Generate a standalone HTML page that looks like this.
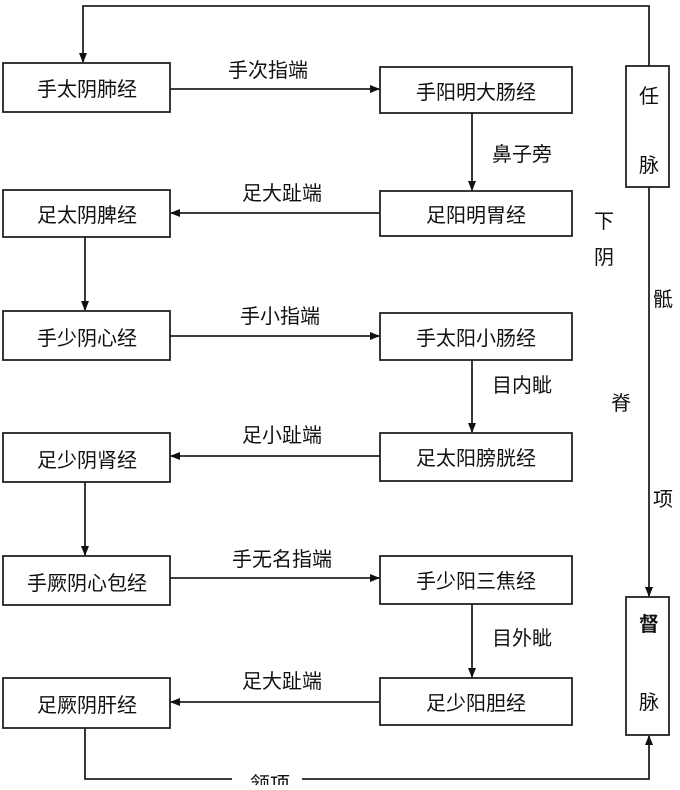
<!DOCTYPE html>
<html><head><meta charset="utf-8"><style>
body{margin:0;background:#fff}
svg text{font-family:"Liberation Sans","Noto Sans CJK SC",sans-serif;font-size:20px;fill:#111}
</style></head><body>
<svg width="680" height="785" viewBox="0 0 680 785" xmlns="http://www.w3.org/2000/svg">
<defs><marker id="a" markerWidth="10" markerHeight="8" refX="9" refY="4" orient="auto" markerUnits="userSpaceOnUse"><path d="M0,0 L10,4 L0,8 Z" fill="#111"/></marker></defs>
<g fill="none" stroke="#222" stroke-width="1.8">
<rect x="3" y="63" width="167" height="49"/>
<rect x="3" y="190" width="167" height="47"/>
<rect x="3" y="311" width="167" height="49"/>
<rect x="3" y="433" width="167" height="49"/>
<rect x="3" y="556" width="167" height="49"/>
<rect x="3" y="678" width="167" height="50"/>
<rect x="380" y="67" width="192" height="46"/>
<rect x="380" y="191" width="192" height="45"/>
<rect x="380" y="313" width="192" height="47"/>
<rect x="380" y="433" width="192" height="48"/>
<rect x="380" y="556" width="192" height="48"/>
<rect x="380" y="678" width="192" height="47"/>
<rect x="626" y="66" width="43" height="121"/>
<rect x="626" y="597" width="43" height="138"/>
<g marker-end="url(#a)">
<line x1="170" y1="89" x2="379" y2="89"/>
<line x1="472" y1="113" x2="472" y2="190"/>
<line x1="380" y1="213" x2="171" y2="213"/>
<line x1="85" y1="237" x2="85" y2="310"/>
<line x1="170" y1="336" x2="379" y2="336"/>
<line x1="472" y1="360" x2="472" y2="432"/>
<line x1="380" y1="456" x2="171" y2="456"/>
<line x1="85" y1="482" x2="85" y2="555"/>
<line x1="170" y1="578" x2="379" y2="578"/>
<line x1="472" y1="604" x2="472" y2="677"/>
<line x1="380" y1="702" x2="171" y2="702"/>
<line x1="649" y1="187" x2="649" y2="596"/>
<polyline points="649,66 649,6 83,6 83,62"/>
<polyline points="85,728 85,779 649,779 649,736"/>
</g>
</g>
<rect x="232" y="768" width="70" height="17" fill="#fff"/>
<g text-anchor="middle">
<text x="87" y="96">手太阴肺经</text>
<text x="476" y="99">手阳明大肠经</text>
<text x="268" y="77">手次指端</text>
<text x="522" y="161">鼻子旁</text>
<text x="282" y="200">足大趾端</text>
<text x="87" y="222">足太阴脾经</text>
<text x="476" y="222">足阳明胃经</text>
<text x="87" y="345">手少阴心经</text>
<text x="476" y="345">手太阳小肠经</text>
<text x="280" y="323">手小指端</text>
<text x="522" y="392">目内眦</text>
<text x="282" y="442">足小趾端</text>
<text x="87" y="467">足少阴肾经</text>
<text x="476" y="465">足太阳膀胱经</text>
<text x="87" y="590">手厥阴心包经</text>
<text x="476" y="588">手少阳三焦经</text>
<text x="282" y="566">手无名指端</text>
<text x="522" y="645">目外眦</text>
<text x="282" y="688">足大趾端</text>
<text x="87" y="712">足厥阴肝经</text>
<text x="476" y="710">足少阳胆经</text>
<text x="270" y="791">颔项</text>
<text x="649" y="103">任</text>
<text x="649" y="172">脉</text>
<text x="649" y="631" font-weight="bold">督</text>
<text x="649" y="709">脉</text>
<text x="604" y="228">下</text>
<text x="604" y="264">阴</text>
<text x="663" y="306">骶</text>
<text x="621" y="410">脊</text>
<text x="663" y="506">项</text>
</g>
</svg>
</body></html>
